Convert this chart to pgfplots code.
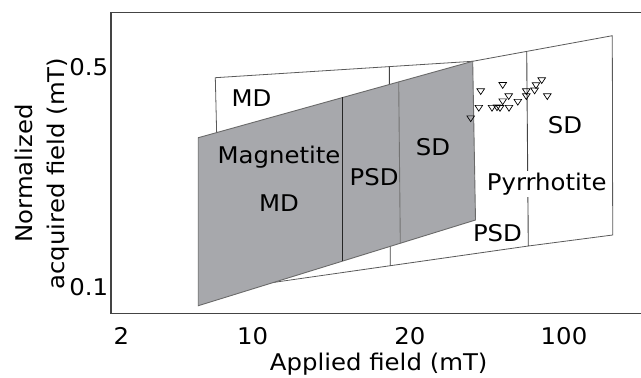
\documentclass[border=0pt]{standalone}
\usepackage{pgfplots}
\pgfplotsset{compat=1.18}
\usepackage{fontspec}
\setmainfont{DejaVu Sans}[FakeStretch=1.06]
\definecolor{axiscol}{HTML}{444444}
\definecolor{polyline}{HTML}{5A5A5A}
\definecolor{greyfill}{RGB}{167,168,172}
\definecolor{greyedge}{HTML}{6A6A6A}
\begin{document}
\begin{tikzpicture}[font=\fontsize{23bp}{32bp}\selectfont]
\begin{axis}[
  scale only axis, width=530bp, height=301bp,
  xmin=111, xmax=641, ymin=63.5, ymax=364.5,
  axis x line=box, axis y line=left,
  axis line style={-, draw=axiscol, line width=1.1pt},
  xtick={121.5,252.7,410,564}, xticklabels={2,10,20,100},
  ytick={301,82}, yticklabels={0.5,0.1},
  major tick length=0pt, minor tick num=0,
  xticklabel style={anchor=base, inner sep=0pt, yshift=-30.5bp},
  yticklabel style={anchor=base east, inner sep=0pt, xshift=-2.7bp},
  xlabel={Applied field (mT)},
  xlabel style={at={(axis description cs:0.5051,-0.1877)}, anchor=base},
  ylabel={Normalized\\acquired field (mT)},
  ylabel style={at={(axis description cs:-0.1298,0.4651)}, anchor=center, align=center},
  clip=false,
]
% Pyrrhotite region (white)
\addplot[fill=white, draw=polyline, line width=0.8pt] coordinates {
  (215.3,299.3) (472.7,315.7) (612.3,341.3) (612.7,142) (528.3,131) (390.3,111.3) (220.5,87)
} -- cycle;
\addplot[draw=axiscol, line width=0.9pt] coordinates {(389.3,310) (390.3,111.3)};
\addplot[draw=axiscol, line width=0.9pt] coordinates {(526.7,325.7) (528.3,131)};
% Magnetite region (grey)
\addplot[fill=greyfill, draw=greyedge, line width=0.9pt] coordinates {
  (198.3,239.3) (472.7,315.7) (475.5,157) (198.3,71.3)
} -- cycle;
\addplot[draw=black!85, line width=0.9pt] coordinates {(342.7,279.5) (342.7,115.9)};
\addplot[draw=black!55, line width=0.9pt] coordinates {(398.7,295.1) (400.3,133.75)};
% data points
\addplot[only marks, mark=triangle, mark size=4.4pt,
  mark options={rotate=180, yscale=0.88, draw=black, line width=0.7pt}] coordinates {
  (480.7,286.3) (502.7,292.5) (508.7,281.3) (502.7,276.2) (478.8,269.7)
  (492.0,269.7) (497.0,270.2) (500.0,269.5) (509.0,269.7) (517.8,275.7)
  (526.3,281.3) (526.3,286.3) (534.6,287.0) (536.0,292.3) (541.7,297.3)
  (547.3,281.3) (470.7,259.2)
};
% labels
\node[anchor=base] at (axis cs:251.5,270) {MD};
\node[anchor=base] at (axis cs:279,214) {Magnetite};
\node[anchor=base] at (axis cs:279,166) {MD};
\node[anchor=base] at (axis cs:374.2,192) {PSD};
\node[anchor=base] at (axis cs:433,221.3) {SD};
\node[anchor=base] at (axis cs:564.9,243.7) {SD};
\node[anchor=base, fill=white, inner sep=2bp] at (axis cs:546.7,187) {Pyrrhotite};
\node[anchor=base] at (axis cs:497.5,136) {PSD};
\coordinate (bl) at (axis cs:0,0);
\coordinate (tr) at (axis cs:641,377);
\end{axis}
\pgfresetboundingbox
\path[use as bounding box] (bl) rectangle (tr);
\end{tikzpicture}
\end{document}
